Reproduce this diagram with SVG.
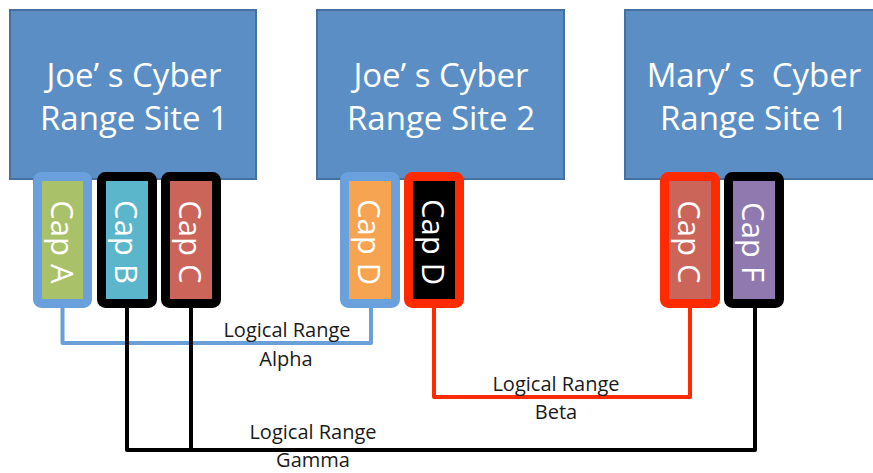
<svg xmlns="http://www.w3.org/2000/svg" width="873" height="473" viewBox="0 0 873 473">
<style>
.site{fill:#5b8ec4;stroke:#46709f;stroke-width:2}
.st{font-family:"Open Sans","Liberation Sans",sans-serif;font-size:33px;fill:#ffffff;text-anchor:middle}
.cap{stroke-width:9}
.ct{font-family:"Open Sans","Liberation Sans",sans-serif;font-size:31px;fill:#ffffff;text-anchor:middle;dominant-baseline:central}
.lbl{font-family:"Open Sans","Liberation Sans",sans-serif;font-size:20px;fill:#1a1a1a;text-anchor:middle}
.conn{fill:none;stroke-width:4;stroke-linejoin:round}
</style>
<g id="connectors">
<path class="conn" stroke="#6a9fd8" d="M62.5,308 V343 H371 V308"/>
<path class="conn" stroke="#000000" d="M127,308 V450 H755 V308 M191,308 V450"/>
<path class="conn" stroke="#ff2a00" d="M434,308 V397 H690 V308"/>
</g>
<g id="site1">
<rect class="site" x="10" y="10" width="246" height="169"/>
<text class="st" x="134" y="87">Joe’ s Cyber</text>
<text class="st" x="134" y="130">Range Site 1</text>
</g>
<g id="site2">
<rect class="site" x="317" y="10" width="247" height="169"/>
<text class="st" x="441" y="87">Joe’ s Cyber</text>
<text class="st" x="441" y="130">Range Site 2</text>
</g>
<g id="site3">
<rect class="site" x="625" y="10" width="260" height="169"/>
<text class="st" x="754" y="87">Mary’ s&#160; Cyber</text>
<text class="st" x="754" y="130">Range Site 1</text>
</g>
<g id="capA">
<rect class="cap" x="37.5" y="176.5" width="50" height="127" rx="4" fill="#a9c26a" stroke="#6aa0dc"/>
<text class="ct" transform="translate(62.5,242) rotate(90)">Cap A</text>
</g>
<g id="capB">
<rect class="cap" x="101.5" y="176.5" width="51" height="127" rx="4" fill="#5bb6cb" stroke="#000000"/>
<text class="ct" transform="translate(127,242) rotate(90)">Cap B</text>
</g>
<g id="capC1">
<rect class="cap" x="165.5" y="176.5" width="51" height="127" rx="4" fill="#cb6459" stroke="#000000"/>
<text class="ct" transform="translate(191,242) rotate(90)">Cap C</text>
</g>
<g id="capD1">
<rect class="cap" x="344.5" y="176.5" width="51" height="127" rx="4" fill="#f7a452" stroke="#6aa0dc"/>
<text class="ct" transform="translate(370,242) rotate(90)">Cap D</text>
</g>
<g id="capD2">
<rect class="cap" x="408.5" y="176.5" width="51" height="127" rx="4" fill="#000000" stroke="#ff2a00"/>
<text class="ct" transform="translate(434,242) rotate(90)">Cap D</text>
</g>
<g id="capC2">
<rect class="cap" x="664.5" y="176.5" width="51" height="127" rx="4" fill="#cb6459" stroke="#ff2a00"/>
<text class="ct" transform="translate(690,242) rotate(90)">Cap C</text>
</g>
<g id="capF">
<rect class="cap" x="728.5" y="176.5" width="51" height="127" rx="4" fill="#8f79ae" stroke="#000000"/>
<text class="ct" transform="translate(754,242) rotate(90)">Cap F</text>
</g>
<g id="labels">
<text class="lbl" x="287" y="337">Logical Range</text>
<text class="lbl" x="286" y="366">Alpha</text>
<text class="lbl" x="556" y="391">Logical Range</text>
<text class="lbl" x="556" y="419">Beta</text>
<text class="lbl" x="313" y="439">Logical Range</text>
<text class="lbl" x="313" y="467">Gamma</text>
</g>
</svg>
